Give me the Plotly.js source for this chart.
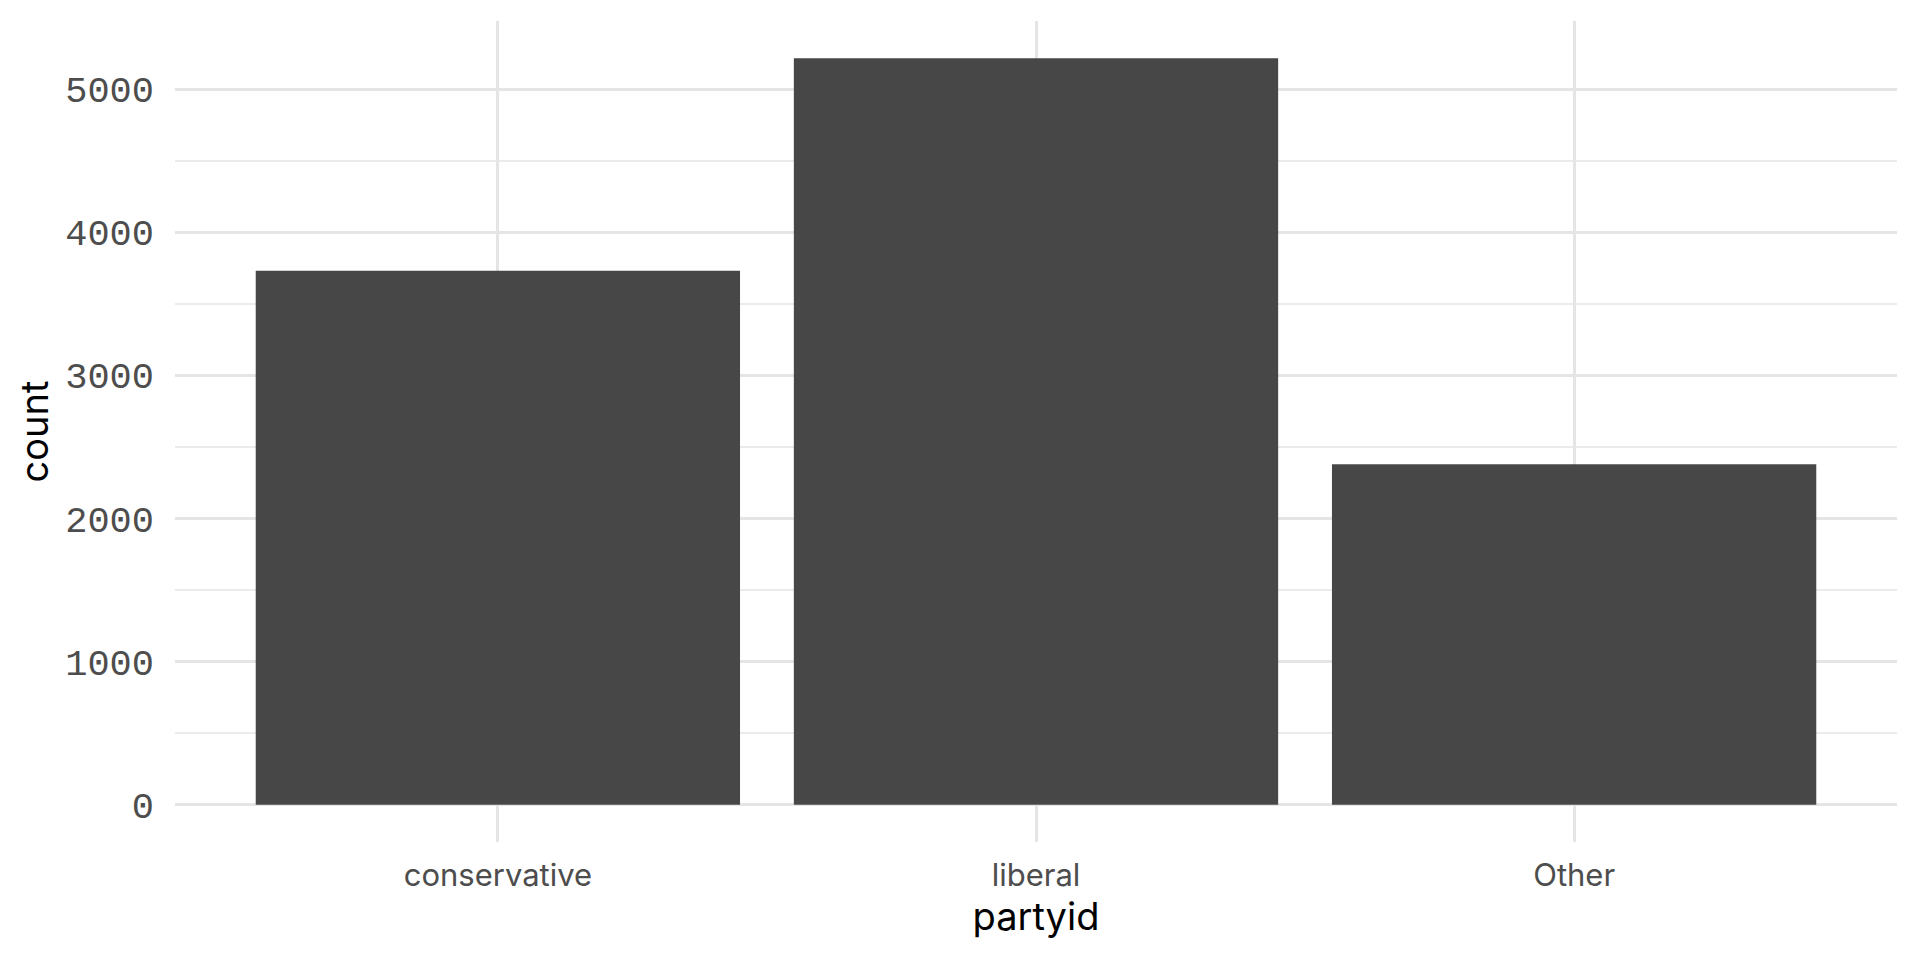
<!DOCTYPE html>
<html><head><meta charset="utf-8">
<script src="https://cdn.plot.ly/plotly-3.0.1.min.js"></script>
<style>html,body{margin:0;padding:0;background:#fff;}#chart{width:1920px;height:960px;}</style>
</head><body><div id="chart"></div>
<script>
const categories = ["conservative", "liberal", "Other"];
const counts = [3732, 5217, 2379];
const yTickVals = [0, 1000, 2000, 3000, 4000, 5000];
const yTickText = ["0", "1000", "2000", "3000", "4000", "5000"];

const ymax = Math.max(...counts);
const trace = {
  type: "bar", x: categories, y: counts, width: 0.9,
  marker: {color: "#474747", line: {width: 0}},
  hoverinfo: "x+y"
};
const layout = {
  width: 1920, height: 960,
  margin: {l: 175, r: 23, t: 21, b: 118},
  paper_bgcolor: "#fff", plot_bgcolor: "#fff",
  showlegend: false,
  xaxis: {
    type: "category", range: [-0.6, 2.6],
    showgrid: true, gridcolor: "#e5e5e5", gridwidth: 3,
    zeroline: false, showline: false, ticks: "",
    tickfont: {family: "Inter, sans-serif", size: 31, color: "#4d4d4d"},
    ticklabelstandoff: 12,
    title: {text: "partyid", font: {family: "Inter, sans-serif", size: 38, color: "#000"}, standoff: 10}
  },
  yaxis: {
    range: [-0.05 * ymax, 1.05 * ymax],
    tickvals: yTickVals, ticktext: yTickText,
    showgrid: true, gridcolor: "#e5e5e5", gridwidth: 3,
    minor: {dtick: 500, tick0: 0, showgrid: true, gridcolor: "#ebebeb", gridwidth: 1.5},
    zeroline: false, showline: false, ticks: "",
    tickfont: {family: "Liberation Mono, monospace", size: 37, color: "#4d4d4d"},
    ticklabelstandoff: 20,
    title: {text: "count", font: {family: "Inter, sans-serif", size: 38, color: "#000"}, standoff: 4}
  }
};
Plotly.newPlot("chart", [trace], layout, {displayModeBar: false, staticPlot: true});
</script></body></html>
